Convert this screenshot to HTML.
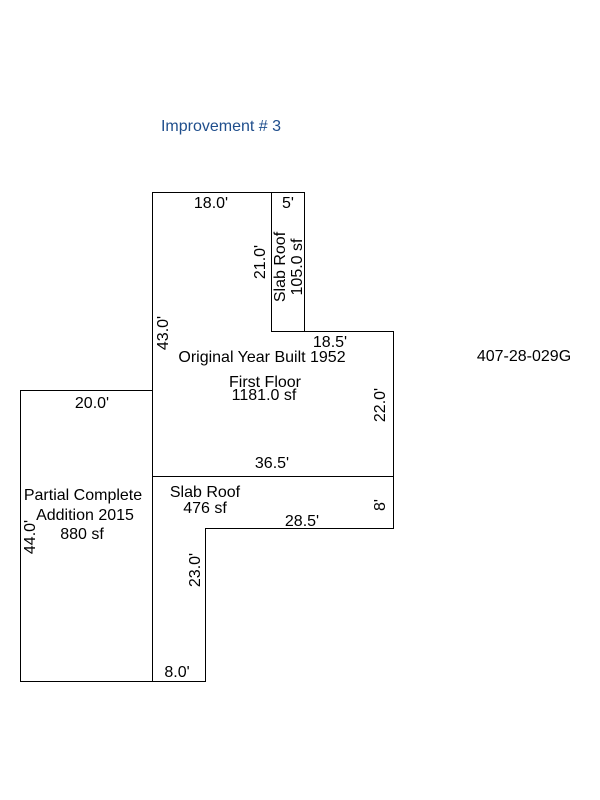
<!DOCTYPE html>
<html><head><style>html,body{margin:0;padding:0;background:#fff}svg{display:block}</style></head>
<body>
<svg width="600" height="800" xmlns="http://www.w3.org/2000/svg" font-family="Liberation Sans, Arial, sans-serif" font-size="16">
<g stroke="#000" stroke-width="1" fill="none" shape-rendering="crispEdges">
<polyline points="152.5,681.5 152.5,192.5 304.5,192.5 304.5,331.5"/>
<polyline points="271.5,192.5 271.5,331.5 393.5,331.5 393.5,528.5 205.5,528.5 205.5,681.5 20.5,681.5 20.5,390.5 152.5,390.5"/>
<line x1="152" y1="476.5" x2="393" y2="476.5"/>
</g>
<text x="221" y="131" fill="#1f4e8c" text-anchor="middle">Improvement # 3</text>
<text x="524" y="361" text-anchor="middle">407-28-029G</text>
<text x="211" y="208" text-anchor="middle">18.0'</text>
<text x="288" y="208" text-anchor="middle">5'</text>
<text x="330" y="347" text-anchor="middle">18.5'</text>
<text x="262" y="362" text-anchor="middle">Original Year Built 1952</text>
<text x="265" y="387" text-anchor="middle">First Floor</text>
<text x="264" y="400" text-anchor="middle">1181.0 sf</text>
<text x="272" y="468" text-anchor="middle">36.5'</text>
<text x="205" y="497" text-anchor="middle">Slab Roof</text>
<text x="205" y="513" text-anchor="middle">476 sf</text>
<text x="302" y="526" text-anchor="middle">28.5'</text>
<text x="92" y="408" text-anchor="middle">20.0'</text>
<text x="83" y="500" text-anchor="middle">Partial Complete</text>
<text x="85" y="520" text-anchor="middle">Addition 2015</text>
<text x="82" y="539" text-anchor="middle">880 sf</text>
<text x="177" y="677" text-anchor="middle">8.0'</text>
<text transform="translate(265,262) rotate(-90)" text-anchor="middle">21.0'</text>
<text transform="translate(285,267) rotate(-90)" text-anchor="middle">Slab Roof</text>
<text transform="translate(302,267) rotate(-90)" text-anchor="middle">105.0 sf</text>
<text transform="translate(168,333) rotate(-90)" text-anchor="middle">43.0'</text>
<text transform="translate(385,405) rotate(-90)" text-anchor="middle">22.0'</text>
<text transform="translate(385,505) rotate(-90)" text-anchor="middle">8'</text>
<text transform="translate(35,537) rotate(-90)" text-anchor="middle">44.0'</text>
<text transform="translate(200,570) rotate(-90)" text-anchor="middle">23.0'</text>
</svg>
</body></html>
